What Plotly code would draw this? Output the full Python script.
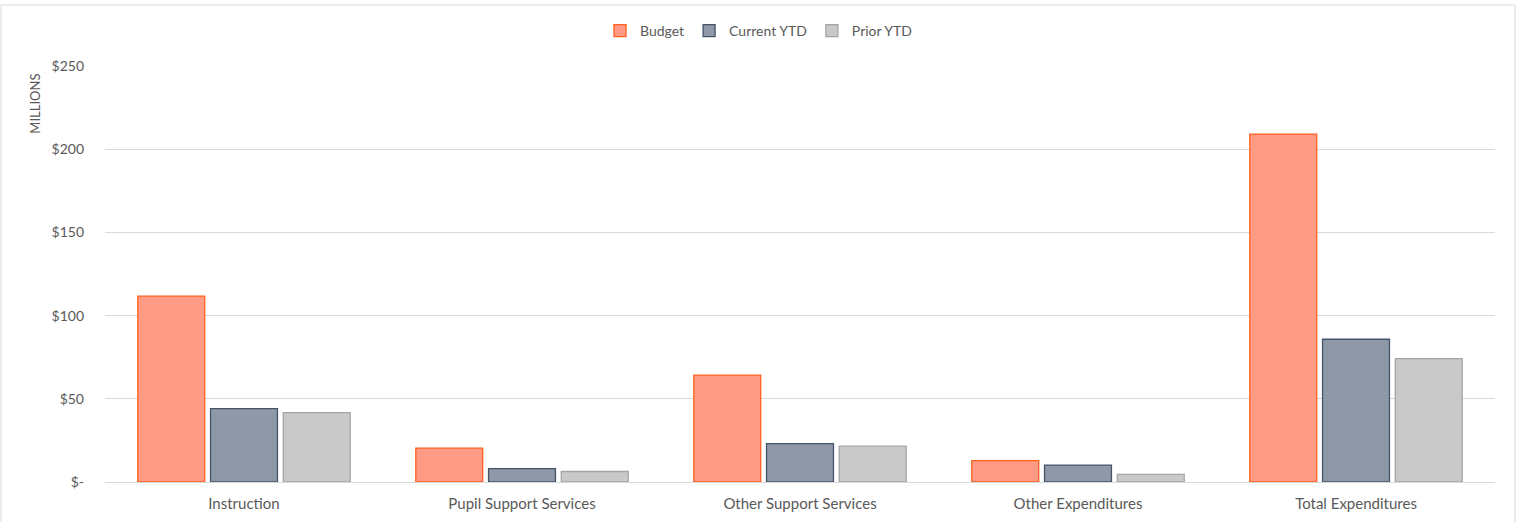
import plotly.graph_objects as go

categories = ["Instruction", "Pupil Support Services", "Other Support Services",
              "Other Expenditures", "Total Expenditures"]
budget = [111.7, 20.3, 64.2, 12.9, 209.1]
current_ytd = [44.1, 8.0, 23.1, 10.2, 85.8]
prior_ytd = [41.7, 6.3, 21.5, 4.6, 74.2]

tick_vals = [0, 50, 100, 150, 200, 250]
tick_text = ["$-", "$50", "$100", "$150", "$200", "$250"]

FONT = "Lato, Open Sans, sans-serif"
TXT = "#595959"
FS = 14

fig = go.Figure()
series = [
    ("Budget", budget, "#FF9A85", "#FF5F1F"),
    ("Current YTD", current_ytd, "#8F98A7", "#44546A"),
    ("Prior YTD", prior_ytd, "#C9C9C9", "#A5A5A5"),
]
for name, vals, fill, line in series:
    fig.add_trace(go.Bar(
        x=categories, y=vals, name=name,
        marker=dict(color=fill, line=dict(color=line, width=1.3)),
    ))

fig.update_layout(
    width=1518, height=522,
    margin=dict(l=105, r=23, t=66, b=40, autoexpand=False),
    paper_bgcolor="white", plot_bgcolor="white",
    barmode="group", bargap=0.215, bargroupgap=0.08,
    font=dict(family=FONT, size=FS, color=TXT),
    legend=dict(orientation="h", x=0.4705, xanchor="center", y=1.084, yanchor="middle",
                font=dict(family=FONT, size=FS, color=TXT), itemwidth=30,
                traceorder="normal"),
    xaxis=dict(showgrid=False, showline=True, linecolor="#D9D9D9", linewidth=1,
               ticks="", ticklabelstandoff=8, automargin=False,
               tickfont=dict(family=FONT, size=15, color=TXT)),
    yaxis=dict(range=[0, 250], tickvals=tick_vals, ticktext=tick_text,
               showgrid=True, gridcolor="#D9D9D9", gridwidth=1, zeroline=False,
               ticks="", ticklabelstandoff=20, automargin=False,
               tickfont=dict(family=FONT, size=FS, color=TXT)),
    showlegend=True,
)

fig.add_annotation(text="MILLIONS", xref="paper", yref="paper",
                   x=-0.0505, y=0.986, xanchor="center", yanchor="top",
                   textangle=-90, showarrow=False,
                   font=dict(family=FONT, size=13, color=TXT))

# outer chart border
fig.add_shape(type="rect", xref="paper", yref="paper",
              x0=-104/1390, x1=1+20/1390, y0=-(40 + 20)/416, y1=1 + 61/416,
              line=dict(color="#D9D9D9", width=1), fillcolor="rgba(0,0,0,0)", layer="below")

fig.write_html("out.html")
